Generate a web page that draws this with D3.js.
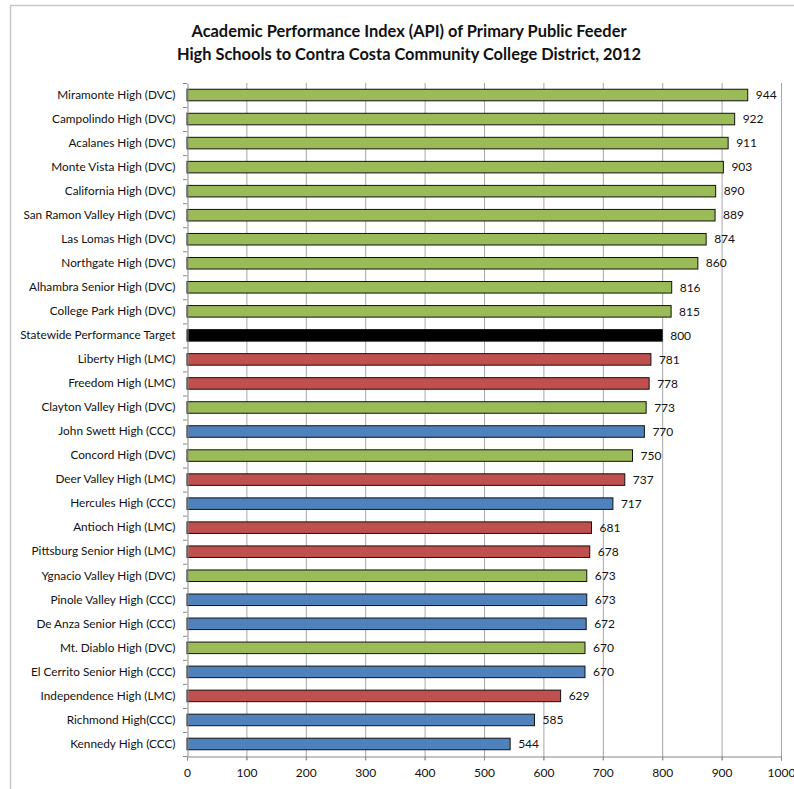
<!DOCTYPE html>
<html><head><meta charset="utf-8">
<script src="https://cdn.jsdelivr.net/npm/d3@7"></script>
<style>
body{margin:0;background:#fff;}
svg{display:block;font-family:Lato,"Open Sans",sans-serif;}
</style></head><body>
<svg id="c" width="794" height="789"></svg>
<script>
const schools = ["Miramonte High (DVC)","Campolindo High (DVC)","Acalanes High (DVC)","Monte Vista High (DVC)","California High (DVC)","San Ramon Valley High (DVC)","Las Lomas High (DVC)","Northgate High (DVC)","Alhambra Senior High (DVC)","College Park High (DVC)","Statewide Performance Target","Liberty High (LMC)","Freedom High (LMC)","Clayton Valley High (DVC)","John Swett High (CCC)","Concord High (DVC)","Deer Valley High (LMC)","Hercules High (CCC)","Antioch High (LMC)","Pittsburg Senior High (LMC)","Ygnacio Valley High (DVC)","Pinole Valley High (CCC)","De Anza Senior High (CCC)","Mt. Diablo High (DVC)","El Cerrito Senior High (CCC)","Independence High (LMC)","Richmond High(CCC)","Kennedy High (CCC)"];
const apiScores = [944,922,911,903,890,889,874,860,816,815,800,781,778,773,770,750,737,717,681,678,673,673,672,670,670,629,585,544];
const groups = ["DVC","DVC","DVC","DVC","DVC","DVC","DVC","DVC","DVC","DVC","Target","LMC","LMC","DVC","CCC","DVC","LMC","CCC","LMC","LMC","DVC","CCC","CCC","DVC","CCC","LMC","CCC","CCC"];
const xTicks = [0,100,200,300,400,500,600,700,800,900,1000];
const titleLines = ["Academic Performance Index (API) of Primary Public Feeder","High Schools to Contra Costa Community College District, 2012"];

const colorOf = {DVC:"#9BBB59", LMC:"#C0504D", CCC:"#4F81BD", Target:"#000000"};
const data = schools.map((s,i)=>({name:s,value:apiScores[i],group:groups[i]}));

const svg = d3.select("#c");
const L=187, R=781, T=83, B=756;

// frame
svg.append("path").attr("d","M10.5,789 V5.5 H794").attr("fill","none").attr("stroke","#c8c8c8").attr("stroke-width",1.5);

// title
svg.append("text").attr("x",409).attr("y",37).attr("text-anchor","middle")
  .attr("font-size",16.4).attr("font-weight","bold").attr("fill","#111").text(titleLines[0]);
svg.append("text").attr("x",409).attr("y",60).attr("text-anchor","middle")
  .attr("font-size",16.4).attr("font-weight","bold").attr("fill","#111").text(titleLines[1]);

const x = d3.scaleLinear().domain([0,1000]).range([L,R]);
const y = d3.scaleBand().domain(schools).range([T,B]).paddingInner(0.52).paddingOuter(0.26);

// gridlines
svg.append("g").selectAll("line").data(xTicks.slice(1)).join("line")
  .attr("x1",d=>x(d)+0.5).attr("x2",d=>x(d)+0.5).attr("y1",T).attr("y2",B+4)
  .attr("stroke","#a6a6a6").attr("stroke-width",1);

// bars
svg.append("g").selectAll("rect").data(data).join("rect")
  .attr("x",x(0)).attr("y",d=>y(d.name)).attr("width",d=>x(d.value)-x(0)).attr("height",y.bandwidth())
  .attr("fill",d=>colorOf[d.group]).attr("stroke","#111").attr("stroke-width",1);

// value labels
svg.append("g").selectAll("text").data(data).join("text")
  .attr("x",d=>x(d.value)+8).attr("y",d=>y(d.name)+y.bandwidth()/2).attr("dy","0.35em")
  .attr("font-size",12).attr("fill","#111").text(d=>d.value);

// y axis
const yAxis = d3.axisLeft(y).tickSize(0).tickPadding(12);
const gy = svg.append("g").attr("transform",`translate(${L+0.5},0)`).call(yAxis);
gy.select(".domain").attr("stroke","#888");
gy.selectAll("text").attr("font-size",11.8).attr("fill","#111").attr("font-family","Lato,sans-serif");
// band boundary ticks
const bounds = d3.range(schools.length+1).map(i=>T+i*(B-T)/schools.length);
svg.append("g").selectAll("line").data(bounds).join("line")
  .attr("x1",L-4).attr("x2",L).attr("y1",d=>d+0.5).attr("y2",d=>d+0.5).attr("stroke","#888");

// x axis
const xAxis = d3.axisBottom(x).tickValues(xTicks).tickFormat(d3.format("d")).tickSize(4).tickPadding(8);
const gx = svg.append("g").attr("transform",`translate(0,${B+0.5})`).call(xAxis);
gx.select(".domain").attr("stroke","#888");
gx.selectAll(".tick line").attr("stroke","#888");
gx.selectAll("text").attr("font-size",12).attr("fill","#111").attr("font-family","Lato,sans-serif");
</script>
</body></html>
